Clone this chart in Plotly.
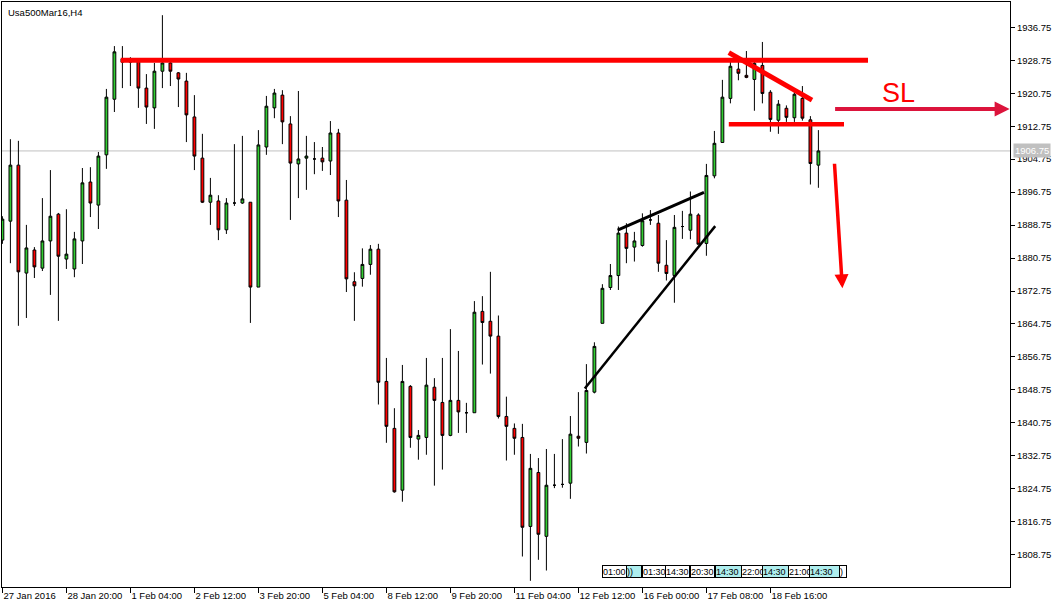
import plotly.graph_objects as go

# ---------------- data ----------------
opens = [1885.1, 1889.7, 1903.3, 1877.1, 1882.7, 1878.3, 1884.9, 1891.4, 1880.5, 1878.1,
         1884.9, 1899.2, 1893.6, 1905.8, 1919.3, 1928.3, 1929.1, 1928.6, 1922.0, 1917.2,
         1926.1, 1928.1, 1925.7, 1923.7, 1915.0, 1905.0, 1894.3, 1894.6, 1887.6, 1894.1,
         1894.1, 1894.3, 1873.7, 1907.7, 1917.2, 1920.3, 1913.3, 1903.6, 1905.0, 1904.8,
         1905.0, 1904.3, 1911.1, 1894.8, 1875.0, 1875.8, 1879.2, 1882.9, 1850.8, 1839.4,
         1824.4, 1849.6, 1836.8, 1837.2, 1849.4, 1845.7, 1837.7, 1846.2, 1843.2, 1843.2,
         1867.8, 1865.4, 1861.8, 1842.3, 1839.4, 1837.2, 1815.6, 1828.7, 1813.2, 1825.6,
         1825.8, 1826.1, 1837.5, 1836.0, 1848.2, 1864.9, 1873.6, 1876.5, 1886.8, 1883.4,
         1883.8, 1890.0, 1889.2, 1879.0, 1876.5, 1888.4, 1887.5, 1891.2, 1884.3, 1900.7,
         1908.8, 1919.5, 1926.6, 1925.1, 1924.1, 1927.5, 1921.0, 1914.2, 1917.1, 1914.8,
         1919.5, 1914.3, 1903.3]
highs = [1890.9, 1909.6, 1909.2, 1888.8, 1883.4, 1895.3, 1902.1, 1891.7, 1892.6, 1887.1,
         1902.6, 1902.8, 1906.5, 1921.8, 1932.2, 1932.2, 1929.5, 1929.1, 1925.4, 1928.1,
         1939.7, 1928.8, 1925.9, 1925.7, 1920.3, 1910.9, 1900.2, 1896.0, 1895.3, 1908.4,
         1910.4, 1894.3, 1911.8, 1920.1, 1921.8, 1921.5, 1915.2, 1921.3, 1910.4, 1908.9,
         1907.7, 1914.0, 1912.1, 1899.7, 1877.3, 1883.1, 1883.9, 1884.2, 1856.5, 1844.3,
         1854.8, 1849.9, 1839.0, 1856.5, 1851.6, 1856.5, 1863.5, 1858.2, 1845.6, 1870.3,
         1871.5, 1877.4, 1866.8, 1847.1, 1840.6, 1840.5, 1833.2, 1832.2, 1834.4, 1833.2,
         1836.8, 1842.4, 1848.2, 1855.0, 1860.3, 1874.4, 1879.3, 1888.4, 1889.2, 1887.1,
         1891.6, 1892.4, 1891.2, 1885.1, 1891.2, 1892.2, 1896.9, 1891.6, 1903.6, 1911.6,
         1924.0, 1928.4, 1928.4, 1931.0, 1928.8, 1933.2, 1921.5, 1919.1, 1917.8, 1921.5,
         1922.5, 1915.2, 1911.8]
lows = [1884.2, 1879.5, 1864.3, 1866.2, 1875.9, 1877.6, 1871.8, 1865.5, 1878.1, 1876.1,
        1879.3, 1890.7, 1887.8, 1902.4, 1916.2, 1922.0, 1922.5, 1917.2, 1913.3, 1912.1,
        1922.0, 1922.5, 1917.4, 1908.9, 1902.1, 1894.1, 1888.8, 1885.1, 1886.6, 1893.4,
        1893.9, 1865.0, 1873.7, 1905.8, 1914.7, 1908.4, 1890.0, 1895.3, 1897.3, 1901.1,
        1901.9, 1900.9, 1890.7, 1872.5, 1865.5, 1873.8, 1876.7, 1845.2, 1835.9, 1823.8,
        1821.6, 1834.7, 1831.8, 1833.0, 1825.5, 1829.4, 1837.5, 1838.3, 1838.3, 1843.2,
        1854.9, 1852.7, 1841.8, 1831.6, 1833.0, 1808.3, 1802.4, 1807.5, 1804.9, 1824.9,
        1825.0, 1822.3, 1835.0, 1833.3, 1847.9, 1864.9, 1873.0, 1873.0, 1879.5, 1879.9,
        1883.5, 1888.8, 1877.4, 1875.3, 1869.9, 1885.4, 1885.3, 1884.1, 1881.3, 1900.1,
        1908.8, 1918.3, 1923.9, 1924.4, 1916.5, 1918.3, 1911.4, 1910.9, 1913.8, 1913.8,
        1914.1, 1898.6, 1897.8]
closes = [1890.2, 1903.3, 1877.4, 1883.2, 1878.6, 1884.9, 1890.9, 1881.2, 1881.7, 1885.4,
          1899.0, 1894.1, 1905.5, 1919.8, 1930.8, 1929.1, 1928.3, 1922.0, 1917.4, 1926.1,
          1928.1, 1926.1, 1924.2, 1915.5, 1905.5, 1894.3, 1896.0, 1887.6, 1894.1, 1894.1,
          1895.1, 1873.7, 1908.2, 1917.6, 1920.8, 1913.8, 1903.8, 1904.8, 1905.5, 1904.8,
          1904.1, 1911.1, 1894.6, 1875.7, 1874.0, 1879.2, 1882.9, 1850.6, 1839.9, 1824.0,
          1850.8, 1837.2, 1837.7, 1849.9, 1846.2, 1837.7, 1846.2, 1843.4, 1843.2, 1867.6,
          1865.1, 1861.8, 1842.3, 1839.9, 1837.0, 1815.4, 1829.7, 1813.7, 1825.6, 1825.6,
          1825.8, 1838.0, 1837.0, 1848.6, 1859.3, 1873.4, 1876.5, 1886.8, 1883.1, 1884.9,
          1889.8, 1890.0, 1879.5, 1877.0, 1888.2, 1888.4, 1891.4, 1884.1, 1900.8, 1908.6,
          1919.8, 1927.3, 1925.6, 1924.6, 1928.0, 1920.7, 1914.4, 1918.1, 1914.9, 1920.5,
          1914.7, 1903.7, 1906.75]
bar_index = list(range(len(opens)))

x_tick_bars = [0, 8, 16, 24, 32, 40, 48, 56, 64, 72, 80, 88, 96]
x_tick_labels = ["27 Jan 2016", "28 Jan 20:00", "1 Feb 04:00", "2 Feb 12:00", "3 Feb 20:00",
                 "5 Feb 04:00", "8 Feb 12:00", "9 Feb 20:00", "11 Feb 04:00", "12 Feb 12:00",
                 "16 Feb 00:00", "17 Feb 08:00", "18 Feb 16:00"]
y_ticks = [1808.75, 1816.75, 1824.75, 1832.75, 1840.75, 1848.75, 1856.75, 1864.75,
           1872.75, 1880.75, 1888.75, 1896.75, 1904.75, 1912.75, 1920.75, 1928.75, 1936.75]
y_tick_labels = ["%.2f" % v for v in y_ticks]

current_price = 1906.75
resistance = 1928.75
neckline = 1913.25
sl_level = 1916.9

# economic-event markers along the bottom (label, bar position, highlighted)
event_labels = ["01:00", "))", "01:30", "14:30", "20:30", "14:30", "22:00", "14:30", "21:00", "14:30", ")"]
event_bars = [76.5, 79.0, 81.45, 84.4, 87.5, 90.7, 93.7, 96.6, 99.6, 102.8, 105.1]
event_hilite = [False, True, False, False, False, True, False, True, False, True, False]
event_widths = [23, 14, 22, 23, 23, 25, 20, 25, 20, 29, 6]

FONT = "Liberation Sans, Arial, sans-serif"

fig = go.Figure()
fig.add_trace(go.Candlestick(
    x=bar_index, open=opens, high=highs, low=lows, close=closes,
    increasing=dict(fillcolor="#32CD32", line=dict(color="black", width=1)),
    decreasing=dict(fillcolor="#FF0000", line=dict(color="black", width=1)),
    whiskerwidth=0, showlegend=False, hoverinfo="skip",
))

shapes = []
shapes.append(dict(type="line", xref="paper", x0=0, x1=1, yref="y", y0=current_price, y1=current_price,
                   line=dict(color="#C0C0C0", width=1), layer="below"))
shapes.append(dict(type="line", xref="x", yref="y", x0=14.8, x1=108.2, y0=resistance, y1=resistance,
                   line=dict(color="#FF0000", width=5)))
shapes.append(dict(type="line", xref="x", yref="y", x0=90.8, y0=1930.6, x1=101.2, y1=1919.1,
                   line=dict(color="#FF0000", width=5)))
shapes.append(dict(type="line", xref="x", yref="y", x0=90.8, x1=105.2, y0=neckline, y1=neckline,
                   line=dict(color="#FF0000", width=4.5)))
shapes.append(dict(type="line", xref="x", yref="y", x0=76.9, y0=1887.55, x1=87.7, y1=1896.7,
                   line=dict(color="black", width=3)))
shapes.append(dict(type="line", xref="x", yref="y", x0=72.8, y0=1849.1, x1=89.1, y1=1888.5,
                   line=dict(color="black", width=2.5)))

annotations = []
annotations.append(dict(text="Usa500Mar16,H4", xref="paper", yref="paper", x=0, y=1,
                        xanchor="left", yanchor="top", xshift=4, yshift=-3, showarrow=False,
                        font=dict(family=FONT, size=9.5, color="black")))
annotations.append(dict(text="", xref="x", yref="y", x=125.9, y=sl_level, axref="x", ayref="y",
                        ax=103.9, ay=sl_level, showarrow=True, arrowhead=2, arrowsize=0.75,
                        arrowwidth=4, arrowcolor="#DC143C", standoff=0))
annotations.append(dict(text="SL", xref="x", yref="y", x=112.0, y=1920.7, showarrow=False,
                        font=dict(family=FONT, size=27, color="#FF0000")))
annotations.append(dict(text="", xref="x", yref="y", x=105.0, y=1873.4, axref="x", ayref="y",
                        ax=104.0, ay=1904.0, showarrow=True, arrowhead=2, arrowsize=0.8,
                        arrowwidth=3.5, arrowcolor="#FF0000", standoff=0))
annotations.append(dict(text="%.2f" % current_price, xref="paper", yref="y", x=1, y=current_price,
                        xanchor="left", xshift=3, showarrow=False, bgcolor="#C0C0C0",
                        borderpad=1, font=dict(family=FONT, size=9.5, color="white")))
for lab, pos, hi, w in zip(event_labels, event_bars, event_hilite, event_widths):
    annotations.append(dict(text=lab, xref="x", yref="paper", x=pos, y=0.0162, showarrow=False,
                            width=w, height=11, align="left", valign="middle",
                            bgcolor="#AEEEEE" if hi else "white", bordercolor="black",
                            borderwidth=1, borderpad=0,
                            font=dict(family=FONT, size=9, color="black")))

fig.update_layout(
    width=1063, height=608,
    margin=dict(l=2, r=53, t=2, b=21, autoexpand=False),
    paper_bgcolor="white", plot_bgcolor="white",
    boxgap=0.5,
    showlegend=False,
    shapes=shapes, annotations=annotations,
    font=dict(family=FONT, size=9.5, color="black"),
    xaxis=dict(range=[-0.05, 125.95], rangeslider=dict(visible=False), showgrid=False, zeroline=False,
               showline=True, linecolor="black", linewidth=1, mirror=True,
               ticks="outside", ticklen=5, tickcolor="black", tickwidth=1, tickangle=0,
               tickvals=x_tick_bars, ticktext=x_tick_labels, ticklabelposition="outside right",
               tickfont=dict(family=FONT, size=9.5, color="black")),
    yaxis=dict(range=[1800.9, 1942.9], side="right", showgrid=False, zeroline=False,
               showline=True, linecolor="black", linewidth=1, mirror=True,
               ticks="outside", ticklen=4, tickcolor="black", tickwidth=1,
               tickvals=y_ticks, ticktext=y_tick_labels,
               tickfont=dict(family=FONT, size=9.5, color="black")),
)

fig.write_html("out.html", config={"displayModeBar": False},
               post_script="document.body.style.margin='0';document.body.style.overflow='hidden';")
